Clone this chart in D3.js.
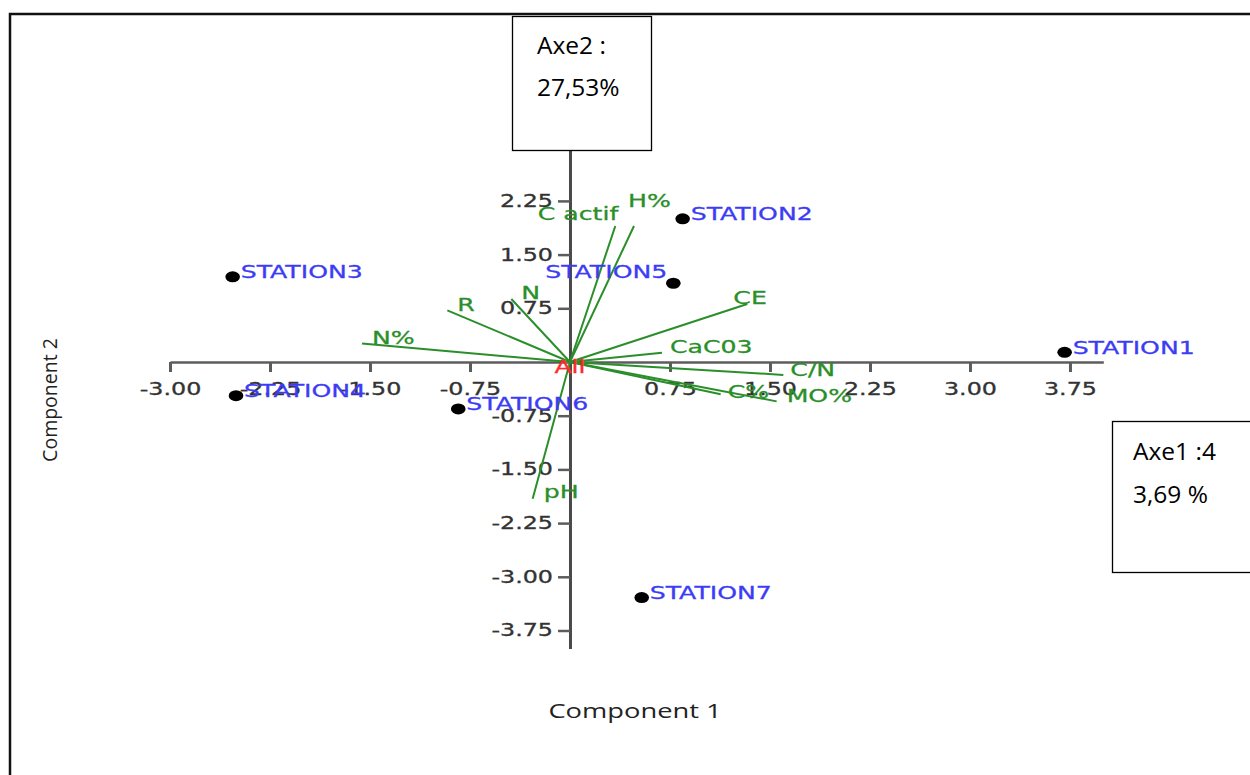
<!DOCTYPE html>
<html>
<head>
<meta charset="utf-8">
<script src="https://cdn.jsdelivr.net/npm/d3@7"></script>
<style>
  html, body { margin: 0; padding: 0; background: #ffffff; }
  svg { display: block; }
</style>
</head>
<body>
<svg id="chart" width="1250" height="775"></svg>
<script>
// PCA biplot: station scores and variable loadings on components 1 and 2
const stationNames = ["STATION1", "STATION2", "STATION3", "STATION4", "STATION5", "STATION6", "STATION7"];
const stationPC1 = [3.71, 0.845, -2.53, -2.505, 0.775, -0.838, 0.538];
const stationPC2 = [0.135, 2.00, 1.19, -0.47, 1.10, -0.656, -3.29];

const variableNames = ["C actif", "H%", "N", "R", "N%", "CE", "CaC03", "C/N", "C%", "MO%", "pH"];
const loadingPC1 = [0.34, 0.48, -0.44, -0.92, -1.56, 1.33, 0.69, 1.60, 1.13, 1.55, -0.28];
const loadingPC2 = [1.90, 1.90, 0.88, 0.72, 0.26, 0.81, 0.13, -0.18, -0.45, -0.55, -1.91];

const xTickValues = [-3.00, -2.25, -1.50, -0.75, 0.75, 1.50, 2.25, 3.00, 3.75];
const yTickValues = [2.25, 1.50, 0.75, -0.75, -1.50, -2.25, -3.00, -3.75];

const groupLabel = "All";
const xTitle = "Component 1";
const yTitle = "Component 2";
const axe2Lines = ["Axe2 :", "27,53%"];
const axe1Lines = ["Axe1 :4", "3,69 %"];

// ---------------------------------------------------------------
const svg = d3.select("#chart");
const STRETCH = 1.4;                 // plot text is drawn wide
const PLOT_FONT = "'DejaVu Sans', Verdana, sans-serif";
const NOTE_FONT = "'Open Sans', 'Liberation Sans', sans-serif";
const GREEN = "#2a8f2a";
const BLUE = "#3c3cf5";

const x = d3.scaleLinear().domain([-3, 4]).range([170, 1103.3]);
const y = d3.scaleLinear().domain([-4, 3]).range([648.4, 147.2]);

function wideText(parent, px, py, str) {
  return parent.append("text")
    .attr("transform", `translate(${px},${py}) scale(${STRETCH},1)`)
    .text(str);
}

// outer frame
svg.append("path")
  .attr("d", "M10,800V14H1270")
  .attr("fill", "none")
  .attr("stroke", "#111")
  .attr("stroke-width", 2.5);

const plot = svg.append("g");

// axes crossing at the origin
const fmt = d => d.toFixed(2);
const xAxisG = plot.append("g")
  .attr("transform", `translate(0,${y(0)})`)
  .call(d3.axisBottom(x).tickValues(xTickValues).tickFormat(fmt)
    .tickSize(10).tickPadding(11).tickSizeOuter(0));
xAxisG.select(".domain").attr("stroke", "#5c5c5c").attr("stroke-width", 2.5);
xAxisG.selectAll(".tick line").attr("stroke", "#5c5c5c").attr("stroke-width", 3);
xAxisG.selectAll(".tick text")
  .attr("font-family", PLOT_FONT).attr("font-size", 17).attr("fill", "#333")
  .attr("stroke", "#333").attr("stroke-width", 0.3)
  .attr("transform", `scale(${STRETCH},1)`);

const yAxisG = plot.append("g")
  .attr("transform", `translate(${x(0)},0)`)
  .call(d3.axisLeft(y).tickValues(yTickValues).tickFormat(fmt)
    .tickSize(12).tickPadding(5).tickSizeOuter(0));
yAxisG.select(".domain").attr("stroke", "#4a4a4a").attr("stroke-width", 3);
yAxisG.selectAll(".tick line").attr("stroke", "#5c5c5c").attr("stroke-width", 2.5);
yAxisG.selectAll(".tick text")
  .attr("font-family", PLOT_FONT).attr("font-size", 17).attr("fill", "#333")
  .attr("stroke", "#333").attr("stroke-width", 0.3)
  .attr("x", -17 / STRETCH)
  .attr("transform", `scale(${STRETCH},1)`);

// variable loading vectors
const loadings = variableNames.map((name, i) => ({ name, pc1: loadingPC1[i], pc2: loadingPC2[i] }));
plot.append("g").selectAll("line")
  .data(loadings)
  .join("line")
  .attr("x1", x(0)).attr("y1", y(0))
  .attr("x2", d => x(d.pc1)).attr("y2", d => y(d.pc2))
  .attr("stroke", GREEN)
  .attr("stroke-width", 2);

// label nudges (text start / vertical centre relative to the vector tip)
const defaultNudge = { dx: 10, dy: -6, anchor: "start" };
const labelNudge = {
  "C actif": { dx: 3, dy: -12, anchor: "end" },
  "H%": { dx: -6, dy: -25, anchor: "start" },
  "CE": { dx: -14, dy: -7, anchor: "start" },
  "CaC03": { dx: 8, dy: -6, anchor: "start" },
  "C/N": { dx: 7, dy: -5, anchor: "start" },
  "C%": { dx: 7, dy: -3, anchor: "start" },
  "pH": { dx: 11, dy: -7, anchor: "start" }
};
const varLabels = plot.append("g")
  .attr("font-family", PLOT_FONT).attr("font-size", 18)
  .attr("fill", GREEN).attr("stroke", GREEN).attr("stroke-width", 0.3);
loadings.forEach(d => {
  const n = labelNudge[d.name] || defaultNudge;
  wideText(varLabels, x(d.pc1) + n.dx, y(d.pc2) + n.dy + 6.5, d.name)
    .attr("text-anchor", n.anchor);
});

// group label at the origin
wideText(plot, x(0), y(0) + 10.5, groupLabel)
  .attr("font-family", PLOT_FONT).attr("font-size", 18)
  .attr("fill", "#ff2a2a").attr("stroke", "#ff2a2a").attr("stroke-width", 0.3)
  .attr("text-anchor", "middle");

// station scores
const stations = stationNames.map((name, i) => ({ name, pc1: stationPC1[i], pc2: stationPC2[i] }));
plot.append("g").selectAll("ellipse")
  .data(stations)
  .join("ellipse")
  .attr("cx", d => x(d.pc1)).attr("cy", d => y(d.pc2))
  .attr("rx", 7.3).attr("ry", 5.5)
  .attr("fill", "#000");

const stationNudge = { "STATION5": { dx: -6, dy: -12, anchor: "end" } };
const stLabels = plot.append("g")
  .attr("font-family", PLOT_FONT).attr("font-size", 18)
  .attr("fill", BLUE).attr("stroke", BLUE).attr("stroke-width", 0.3);
stations.forEach(d => {
  const n = stationNudge[d.name] || { dx: 8, dy: -5, anchor: "start" };
  wideText(stLabels, x(d.pc1) + n.dx, y(d.pc2) + n.dy + 6.5, d.name)
    .attr("text-anchor", n.anchor);
});

// axis titles
wideText(svg, 635, 718, xTitle)
  .attr("font-family", NOTE_FONT).attr("font-size", 19.5)
  .attr("fill", "#222").attr("text-anchor", "middle");
svg.append("text")
  .attr("transform", "translate(57,400) rotate(-90)")
  .attr("font-family", NOTE_FONT).attr("font-size", 19.5)
  .attr("fill", "#222").attr("text-anchor", "middle")
  .text(yTitle);

// explained-variance notes
function noteBox(bx, by, bw, bh, tx, baselines, lines) {
  const g = svg.append("g");
  g.append("rect")
    .attr("x", bx).attr("y", by).attr("width", bw).attr("height", bh)
    .attr("fill", "#fff").attr("stroke", "#000").attr("stroke-width", 1.3);
  lines.forEach((s, i) => {
    g.append("text")
      .attr("x", tx).attr("y", baselines[i])
      .attr("font-family", NOTE_FONT).attr("font-size", 24.5)
      .attr("fill", "#000")
      .text(s);
  });
}
noteBox(512.5, 16.5, 139, 134, 537, [54, 96], axe2Lines);
noteBox(1112.5, 421.5, 160, 151, 1133, [460, 503], axe1Lines);
</script>
</body>
</html>
